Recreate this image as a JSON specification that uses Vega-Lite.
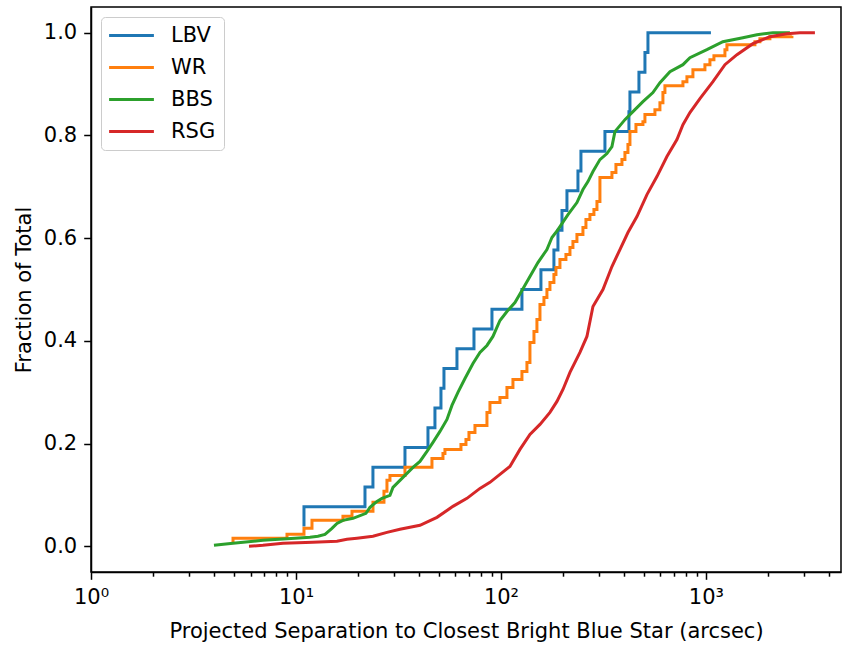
{
  "$schema": "https://vega.github.io/schema/vega-lite/v6.json",
  "width": 750,
  "height": 565,
  "autosize": {"type": "none"},
  "padding": {"left": 91, "top": 7, "right": 1, "bottom": 74},
  "background": "white",
  "config": {
    "font": "DejaVu Sans",
    "view": {"stroke": "black", "strokeWidth": 1.5},
    "axis": {
      "labelFont": "DejaVu Sans", "titleFont": "DejaVu Sans",
      "labelFontSize": 21, "titleFontSize": 21, "titleFontWeight": "normal",
      "labelColor": "black", "titleColor": "black",
      "tickColor": "black", "domainColor": "black",
      "domainWidth": 1.5, "tickWidth": 1.5, "grid": false
    },
    "legend": {
      "padding": 8, "strokeColor": "#cccccc", "cornerRadius": 4, "fillColor": "white",
      "labelFontSize": 21, "labelFont": "DejaVu Sans", "labelColor": "black",
      "rowPadding": 10, "symbolType": "M-3.2,0H3.2", "symbolSize": 196,
      "symbolStrokeWidth": 3, "symbolOffset": 12, "labelOffset": 29
    }
  },
  "data": {"values": [
    {"s":"LBV","x":10.94,"y":0.0385},{"s":"LBV","x":10.94,"y":0.0769},{"s":"LBV","x":21.71,"y":0.1154},{"s":"LBV","x":23.74,"y":0.1538},{"s":"LBV","x":34.02,"y":0.1923},{"s":"LBV","x":44.05,"y":0.2308},{"s":"LBV","x":47.64,"y":0.2692},{"s":"LBV","x":50.97,"y":0.3077},{"s":"LBV","x":52.72,"y":0.3462},{"s":"LBV","x":61.01,"y":0.3846},{"s":"LBV","x":73.86,"y":0.4231},{"s":"LBV","x":90.39,"y":0.4615},{"s":"LBV","x":126.6,"y":0.5},{"s":"LBV","x":156.7,"y":0.5385},{"s":"LBV","x":181.3,"y":0.5769},{"s":"LBV","x":189.7,"y":0.6154},{"s":"LBV","x":198.5,"y":0.6538},{"s":"LBV","x":209.9,"y":0.6923},{"s":"LBV","x":237.5,"y":0.7308},{"s":"LBV","x":245.6,"y":0.7692},{"s":"LBV","x":321.6,"y":0.8077},{"s":"LBV","x":421.1,"y":0.8462},{"s":"LBV","x":425.9,"y":0.8846},{"s":"LBV","x":471.2,"y":0.9231},{"s":"LBV","x":504.1,"y":0.9615},{"s":"LBV","x":521.4,"y":1.0},{"s":"LBV","x":1057.8,"y":1.0},
    {"s":"WR","x":4.93,"y":0.0078},{"s":"WR","x":4.93,"y":0.0156},{"s":"WR","x":9.04,"y":0.0233},{"s":"WR","x":10.94,"y":0.035},{"s":"WR","x":11.97,"y":0.0506},{"s":"WR","x":16.95,"y":0.0584},{"s":"WR","x":18.76,"y":0.0681},{"s":"WR","x":23.75,"y":0.0856},{"s":"WR","x":26.87,"y":0.107},{"s":"WR","x":27.79,"y":0.1284},{"s":"WR","x":28.74,"y":0.1381},{"s":"WR","x":34.02,"y":0.1537},{"s":"WR","x":46.07,"y":0.1712},{"s":"WR","x":52.13,"y":0.1809},{"s":"WR","x":53.31,"y":0.1887},{"s":"WR","x":63.81,"y":0.1984},{"s":"WR","x":67.5,"y":0.2082},{"s":"WR","x":69.81,"y":0.2218},{"s":"WR","x":74.68,"y":0.2354},{"s":"WR","x":85.45,"y":0.2607},{"s":"WR","x":88.38,"y":0.2802},{"s":"WR","x":98.88,"y":0.2899},{"s":"WR","x":106.97,"y":0.3093},{"s":"WR","x":114.43,"y":0.3249},{"s":"WR","x":126.6,"y":0.3405},{"s":"WR","x":133.9,"y":0.358},{"s":"WR","x":138.5,"y":0.3969},{"s":"WR","x":144.9,"y":0.4183},{"s":"WR","x":149.8,"y":0.4416},{"s":"WR","x":155.0,"y":0.4708},{"s":"WR","x":162.1,"y":0.4844},{"s":"WR","x":167.6,"y":0.5},{"s":"WR","x":173.4,"y":0.5136},{"s":"WR","x":181.3,"y":0.5292},{"s":"WR","x":185.5,"y":0.5428},{"s":"WR","x":194.0,"y":0.5584},{"s":"WR","x":207.5,"y":0.5681},{"s":"WR","x":217.1,"y":0.5817},{"s":"WR","x":224.5,"y":0.5934},{"s":"WR","x":234.8,"y":0.607},{"s":"WR","x":251.2,"y":0.6206},{"s":"WR","x":259.8,"y":0.6362},{"s":"WR","x":271.7,"y":0.6459},{"s":"WR","x":284.2,"y":0.6556},{"s":"WR","x":294.0,"y":0.6712},{"s":"WR","x":304.0,"y":0.7179},{"s":"WR","x":347.9,"y":0.7276},{"s":"WR","x":363.9,"y":0.7432},{"s":"WR","x":389.3,"y":0.7529},{"s":"WR","x":402.6,"y":0.7665},{"s":"WR","x":416.4,"y":0.7821},{"s":"WR","x":425.9,"y":0.8074},{"s":"WR","x":455.6,"y":0.821},{"s":"WR","x":492.8,"y":0.8268},{"s":"WR","x":504.0,"y":0.8405},{"s":"WR","x":563.9,"y":0.8502},{"s":"WR","x":596.5,"y":0.8638},{"s":"WR","x":616.9,"y":0.8833},{"s":"WR","x":630.9,"y":0.8969},{"s":"WR","x":772.4,"y":0.9047},{"s":"WR","x":807.8,"y":0.9144},{"s":"WR","x":864.1,"y":0.928},{"s":"WR","x":988.8,"y":0.9377},{"s":"WR","x":1046,"y":0.9475},{"s":"WR","x":1094,"y":0.9553},{"s":"WR","x":1238,"y":0.9669},{"s":"WR","x":1266,"y":0.9767},{"s":"WR","x":1734,"y":0.9825},{"s":"WR","x":1834,"y":0.9883},{"s":"WR","x":2052,"y":0.9922},{"s":"WR","x":2627,"y":0.9942},
    {"s":"BBS","x":3.98,"y":0.0019},{"s":"BBS","x":4.93,"y":0.0058},{"s":"BBS","x":6.9,"y":0.0117},{"s":"BBS","x":9.89,"y":0.0156},{"s":"BBS","x":11.7,"y":0.0175},{"s":"BBS","x":12.8,"y":0.0195},{"s":"BBS","x":13.85,"y":0.0233},{"s":"BBS","x":14.98,"y":0.035},{"s":"BBS","x":15.85,"y":0.0447},{"s":"BBS","x":16.95,"y":0.0506},{"s":"BBS","x":18.97,"y":0.0545},{"s":"BBS","x":21.95,"y":0.0642},{"s":"BBS","x":22.96,"y":0.0759},{"s":"BBS","x":24.84,"y":0.0875},{"s":"BBS","x":26.27,"y":0.0934},{"s":"BBS","x":28.74,"y":0.0992},{"s":"BBS","x":29.73,"y":0.1148},{"s":"BBS","x":32.16,"y":0.1284},{"s":"BBS","x":34.02,"y":0.1381},{"s":"BBS","x":37.22,"y":0.1537},{"s":"BBS","x":40.26,"y":0.1654},{"s":"BBS","x":43.56,"y":0.1848},{"s":"BBS","x":46.59,"y":0.2023},{"s":"BBS","x":50.4,"y":0.2237},{"s":"BBS","x":54.53,"y":0.2471},{"s":"BBS","x":57.67,"y":0.2743},{"s":"BBS","x":61.69,"y":0.2996},{"s":"BBS","x":66.75,"y":0.3268},{"s":"BBS","x":73.02,"y":0.356},{"s":"BBS","x":78.99,"y":0.3774},{"s":"BBS","x":85.45,"y":0.3911},{"s":"BBS","x":91.4,"y":0.4086},{"s":"BBS","x":98.88,"y":0.4397},{"s":"BBS","x":106.97,"y":0.4572},{"s":"BBS","x":117.03,"y":0.4747},{"s":"BBS","x":126.6,"y":0.4981},{"s":"BBS","x":138.5,"y":0.5253},{"s":"BBS","x":151.5,"y":0.5525},{"s":"BBS","x":167.6,"y":0.5778},{"s":"BBS","x":177.3,"y":0.6012},{"s":"BBS","x":189.7,"y":0.6167},{"s":"BBS","x":212.3,"y":0.6459},{"s":"BBS","x":234.8,"y":0.6693},{"s":"BBS","x":251.2,"y":0.6946},{"s":"BBS","x":265.7,"y":0.7101},{"s":"BBS","x":281.1,"y":0.7296},{"s":"BBS","x":304.0,"y":0.7529},{"s":"BBS","x":328.9,"y":0.7646},{"s":"BBS","x":347.9,"y":0.7782},{"s":"BBS","x":359.8,"y":0.8074},{"s":"BBS","x":402.6,"y":0.8307},{"s":"BBS","x":450.5,"y":0.8502},{"s":"BBS","x":492.8,"y":0.8658},{"s":"BBS","x":551.4,"y":0.8833},{"s":"BBS","x":596.5,"y":0.9027},{"s":"BBS","x":667.5,"y":0.9241},{"s":"BBS","x":772.4,"y":0.9377},{"s":"BBS","x":835.5,"y":0.9514},{"s":"BBS","x":1011,"y":0.9669},{"s":"BBS","x":1210,"y":0.9825},{"s":"BBS","x":1515,"y":0.9903},{"s":"BBS","x":1773,"y":0.9961},{"s":"BBS","x":2123,"y":1.0},{"s":"BBS","x":2569,"y":1.0},
    {"s":"RSG","x":5.9,"y":0.0},{"s":"RSG","x":6.9,"y":0.0019},{"s":"RSG","x":8.64,"y":0.0058},{"s":"RSG","x":12.1,"y":0.0078},{"s":"RSG","x":15.85,"y":0.0097},{"s":"RSG","x":17.73,"y":0.0136},{"s":"RSG","x":19.84,"y":0.0156},{"s":"RSG","x":23.75,"y":0.0195},{"s":"RSG","x":27.79,"y":0.0272},{"s":"RSG","x":32.16,"y":0.0331},{"s":"RSG","x":40.26,"y":0.0409},{"s":"RSG","x":48.73,"y":0.0564},{"s":"RSG","x":58.32,"y":0.0778},{"s":"RSG","x":68.26,"y":0.0934},{"s":"RSG","x":78.99,"y":0.1128},{"s":"RSG","x":88.38,"y":0.1245},{"s":"RSG","x":98.88,"y":0.1401},{"s":"RSG","x":110.6,"y":0.1556},{"s":"RSG","x":123.8,"y":0.1887},{"s":"RSG","x":138.5,"y":0.2179},{"s":"RSG","x":155.0,"y":0.2374},{"s":"RSG","x":173.4,"y":0.2607},{"s":"RSG","x":187.6,"y":0.2821},{"s":"RSG","x":200.7,"y":0.3054},{"s":"RSG","x":217.1,"y":0.3385},{"s":"RSG","x":242.9,"y":0.3774},{"s":"RSG","x":262.7,"y":0.4086},{"s":"RSG","x":281.1,"y":0.4669},{"s":"RSG","x":314.5,"y":0.5},{"s":"RSG","x":347.9,"y":0.5447},{"s":"RSG","x":380.6,"y":0.5778},{"s":"RSG","x":416.4,"y":0.6109},{"s":"RSG","x":460.7,"y":0.642},{"s":"RSG","x":515.5,"y":0.6848},{"s":"RSG","x":576.7,"y":0.7198},{"s":"RSG","x":645.3,"y":0.7588},{"s":"RSG","x":722.0,"y":0.7918},{"s":"RSG","x":772.4,"y":0.821},{"s":"RSG","x":835.5,"y":0.8444},{"s":"RSG","x":934.8,"y":0.8716},{"s":"RSG","x":1082,"y":0.9047},{"s":"RSG","x":1238,"y":0.9377},{"s":"RSG","x":1417,"y":0.9572},{"s":"RSG","x":1695,"y":0.9786},{"s":"RSG","x":2052,"y":0.9922},{"s":"RSG","x":2484,"y":0.9981},{"s":"RSG","x":2874,"y":1.0},{"s":"RSG","x":3402,"y":1.0}
  ]},
  "encoding": {
    "x": {
      "field": "x", "type": "quantitative",
      "scale": {"type": "log", "domain": [1, 4560], "nice": false},
      "axis": {
        "title": "Projected Separation to Closest Bright Blue Star (arcsec)",
        "values": [1,2,3,4,5,6,7,8,9,10,20,30,40,50,60,70,80,90,100,200,300,400,500,600,700,800,900,1000,2000,3000,4000],
        "labelExpr": "datum.value == 1 ? '10⁰' : datum.value == 10 ? '10¹' : datum.value == 100 ? '10²' : datum.value == 1000 ? '10³' : ''",
        "tickSize": {"condition": {"test": "datum.value == 1 || datum.value == 10 || datum.value == 100 || datum.value == 1000", "value": 7.3}, "value": 4.2},
        "labelPadding": 7, "titlePadding": 13, "labelOverlap": false, "labelFlush": false
      }
    },
    "y": {
      "field": "y", "type": "quantitative",
      "scale": {"domain": [-0.05, 1.05], "nice": false, "zero": false},
      "axis": {
        "title": "Fraction of Total", "values": [0, 0.2, 0.4, 0.6, 0.8, 1.0], "format": ".1f",
        "tickSize": 7.3, "labelPadding": 7, "titlePadding": 9
      }
    },
    "color": {
      "field": "s", "type": "nominal",
      "scale": {"domain": ["LBV", "WR", "BBS", "RSG"], "range": ["#1f77b4", "#ff7f0e", "#2ca02c", "#d62728"]},
      "legend": {"title": null, "orient": "top-left", "offset": 10}
    },
    "order": [{"field": "x", "type": "quantitative"}, {"field": "y", "type": "quantitative"}]
  },
  "layer": [
    {"transform": [{"filter": "datum.s == 'LBV'"}], "mark": {"type": "line", "interpolate": "step-after", "strokeWidth": 3, "strokeJoin": "miter"}},
    {"transform": [{"filter": "datum.s == 'WR'"}], "mark": {"type": "line", "interpolate": "step-after", "strokeWidth": 3, "strokeJoin": "miter"}},
    {"transform": [{"filter": "datum.s == 'BBS'"}], "mark": {"type": "line", "interpolate": "linear", "strokeWidth": 3, "strokeJoin": "miter"}},
    {"transform": [{"filter": "datum.s == 'RSG'"}], "mark": {"type": "line", "interpolate": "linear", "strokeWidth": 3, "strokeJoin": "miter"}}
  ]
}
